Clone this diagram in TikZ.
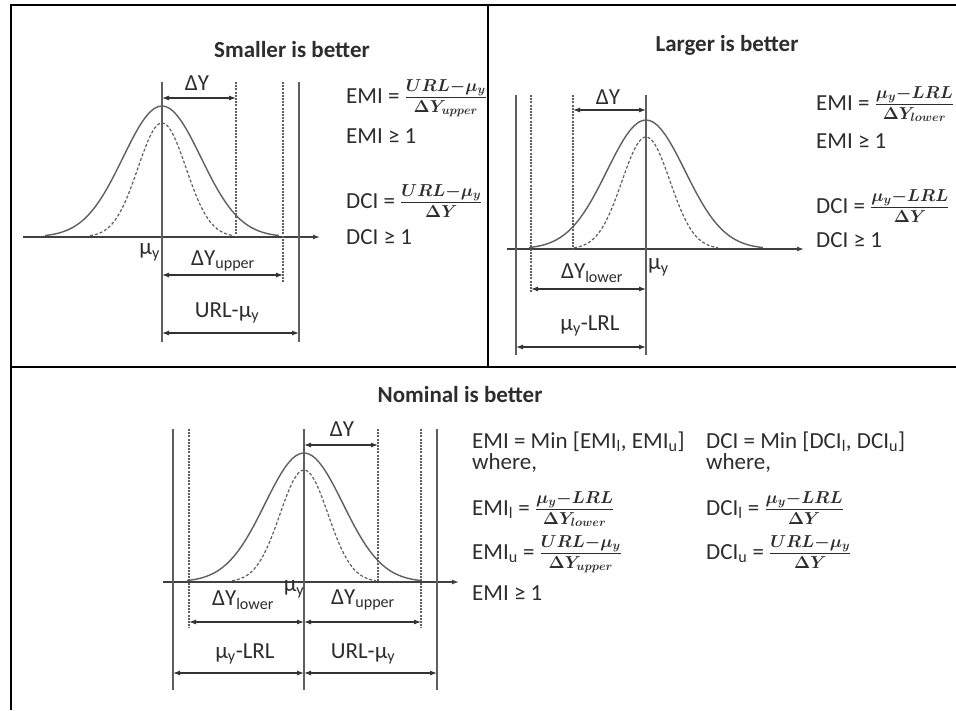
\documentclass[tikz,border=0pt]{standalone}
\usepackage{fontspec}
\setmainfont{Carlito}
\usetikzlibrary{arrows.meta,calc,positioning}
\definecolor{lngray}{RGB}{95,95,95}
\definecolor{txgray}{RGB}{45,45,45}

\begin{document}
\begin{tikzpicture}[x=1pt,y=-1pt,>={Latex[length=7pt,width=5pt]},
    every node/.style={font=\fontsize{23}{25}\selectfont,text=txgray,inner sep=1pt},
    title/.style={font=\fontsize{23}{25}\selectfont\bfseries},
    frameline/.style={black,line width=2.6pt},
    curve/.style={lngray,line width=1.4pt},
    dcurve/.style={lngray,line width=1.2pt,dash pattern=on 3pt off 2pt},
    guide/.style={lngray,line width=1.1pt},
    dguide/.style={lngray,line width=1.1pt,dash pattern=on 2pt off 1.2pt},
    dimline/.style={<->,black!80,line width=1.1pt},
    axis/.style={->,black!75,line width=1.3pt}]
  \useasboundingbox (0,0) rectangle (956,710);
  % frame
  \draw[frameline] (11,710) -- (11,5) -- (956,5);
  \draw[frameline] (11,367) -- (956,367);
  \draw[frameline] (488,5) -- (488,367);

  % smaller is better
  \node[title] (t1) at (292,50) {Smaller is better};
  \coordinate (ax1l) at (23,237); \coordinate (ax1r) at (320,237);
  \draw[axis] (ax1l) -- (ax1r);
  \draw[curve] plot[domain=-3:3,samples=61] ({162+39*\x},{237-131*exp(-0.5*(\x)^2)});
  \draw[dcurve] plot[domain=-3:3,samples=61] ({162+24*\x},{237-114*exp(-0.5*(\x)^2)});
  \coordinate (mu1t) at (162,82); \coordinate (mu1b) at (162,342);
  \coordinate (dy1t) at (236,82); \coordinate (dy1b) at (236,237);
  \coordinate (up1t) at (283,82); \coordinate (up1b) at (283,282);
  \coordinate (url1t) at (299,82); \coordinate (url1b) at (299,342);
  \draw[guide] (mu1t) -- (mu1b); \draw[guide] (url1t) -- (url1b);
  \draw[dguide] (dy1t) -- (dy1b); \draw[dguide] (up1t) -- (up1b);
  \draw[dimline] (mu1t |- 0,98) -- (dy1t |- 0,98);
  \draw[dimline] (mu1t |- 0,275) -- (up1t |- 0,275);
  \draw[dimline] (mu1t |- 0,333) -- (url1t |- 0,333);
  \node (dy1) at (197,83) {ΔY};
  \node[anchor=east] (mu1) at (161,252) {μ\textsubscript{y}};
  \node (dyup1) at (223,261) {ΔY\textsubscript{upper}};
  \node (urlmu1) at (227,313) {URL-μ\textsubscript{y}};
  \node[anchor=base west] (emi1) at (345,103) {EMI = {\boldmath$\frac{URL-\mu_y}{\Delta Y_{upper}}$}};
  \node[anchor=base west] (emic1) at (345,143) {EMI ≥ 1};
  \node[anchor=base west] (dci1) at (345,208) {DCI = {\boldmath$\frac{URL-\mu_y}{\Delta Y}$}};
  \node[anchor=base west] (dcic1) at (345,244) {DCI ≥ 1};

  % larger is better
  \node[title] (t2) at (727,45) {Larger is better};
  \coordinate (ax2l) at (507,249); \coordinate (ax2r) at (804,249);
  \draw[axis] (ax2l) -- (ax2r);
  \draw[curve] plot[domain=-3:3,samples=61] ({646+39*\x},{249-129*exp(-0.5*(\x)^2)});
  \draw[dcurve] plot[domain=-3:3,samples=61] ({646+24*\x},{249-112*exp(-0.5*(\x)^2)});
  \coordinate (lrl2t) at (516,95); \coordinate (lrl2b) at (516,355);
  \coordinate (lo2t) at (531,95); \coordinate (lo2b) at (531,293);
  \coordinate (dy2t) at (573,95); \coordinate (dy2b) at (573,249);
  \coordinate (mu2t) at (646,95); \coordinate (mu2b) at (646,355);
  \draw[guide] (lrl2t) -- (lrl2b); \draw[guide] (mu2t) -- (mu2b);
  \draw[dguide] (lo2t) -- (lo2b); \draw[dguide] (dy2t) -- (dy2b);
  \draw[dimline] (dy2t |- 0,110) -- (mu2t |- 0,110);
  \draw[dimline] (lo2t |- 0,289) -- (mu2t |- 0,289);
  \draw[dimline] (lrl2t |- 0,347) -- (mu2t |- 0,347);
  \node (dy2) at (608,97) {ΔY};
  \node[anchor=west] (mu2) at (647,267) {μ\textsubscript{y}};
  \node (dylo2) at (592,273) {ΔY\textsubscript{lower}};
  \node (mulrl2) at (590,326) {μ\textsubscript{y}-LRL};
  \node[anchor=base west] (emi2) at (815,110) {EMI = {\boldmath$\frac{\mu_y-LRL}{\Delta Y_{lower}}$}};
  \node[anchor=base west] (emic2) at (815,148) {EMI ≥ 1};
  \node[anchor=base west] (dci2) at (815,213) {DCI = {\boldmath$\frac{\mu_y-LRL}{\Delta Y}$}};
  \node[anchor=base west] (dcic2) at (815,247) {DCI ≥ 1};

  % nominal is better
  \node[title] (t3) at (460,395) {Nominal is better};
  \coordinate (ax3l) at (163,582); \coordinate (ax3r) at (459,582);
  \draw[axis] (ax3l) -- (ax3r);
  \draw[curve] plot[domain=-3:3,samples=61] ({304+39*\x},{582-129*exp(-0.5*(\x)^2)});
  \draw[dcurve] plot[domain=-3:3,samples=61] ({304+24*\x},{582-112*exp(-0.5*(\x)^2)});
  \coordinate (lrl3t) at (173,429); \coordinate (lrl3b) at (173,690);
  \coordinate (lo3t) at (189,429); \coordinate (lo3b) at (189,628);
  \coordinate (mu3t) at (304,429); \coordinate (mu3b) at (304,690);
  \coordinate (dy3t) at (378,429); \coordinate (dy3b) at (378,582);
  \coordinate (up3t) at (421,429); \coordinate (up3b) at (421,628);
  \coordinate (url3t) at (437,429); \coordinate (url3b) at (437,690);
  \draw[guide] (lrl3t) -- (lrl3b); \draw[guide] (mu3t) -- (mu3b); \draw[guide] (url3t) -- (url3b);
  \draw[dguide] (lo3t) -- (lo3b); \draw[dguide] (dy3t) -- (dy3b); \draw[dguide] (up3t) -- (up3b);
  \draw[dimline] (mu3t |- 0,445) -- (dy3t |- 0,445);
  \draw[dimline] (lo3t |- 0,622) -- (mu3t |- 0,622);
  \draw[dimline] (mu3t |- 0,622) -- (up3t |- 0,622);
  \draw[dimline] (lrl3t |- 0,673) -- (mu3t |- 0,673);
  \draw[dimline] (mu3t |- 0,673) -- (url3t |- 0,673);
  \node (dy3) at (342,429) {ΔY};
  \node (dylo3) at (243,600) {ΔY\textsubscript{lower}};
  \node (mu3) at (294,589) {μ\textsubscript{y}};
  \node (dyup3) at (363,600) {ΔY\textsubscript{upper}};
  \node (mulrl3) at (245,654) {μ\textsubscript{y}-LRL};
  \node (urlmu3) at (363,654) {URL-μ\textsubscript{y}};
  \node[anchor=base west] (emi3) at (471,448) {EMI = Min [EMI\textsubscript{l}, EMI\textsubscript{u}]};
  \node[anchor=base west] (wh3) at (471,469) {where,};
  \node[anchor=base west] (emil3) at (471,515) {EMI\textsubscript{l} = {\boldmath$\frac{\mu_y-LRL}{\Delta Y_{lower}}$}};
  \node[anchor=base west] (emiu3) at (471,559) {EMI\textsubscript{u} = {\boldmath$\frac{URL-\mu_y}{\Delta Y_{upper}}$}};
  \node[anchor=base west] (emic3) at (471,600) {EMI ≥ 1};
  \node[anchor=base west] (dci3) at (705,448) {DCI = Min [DCI\textsubscript{l}, DCI\textsubscript{u}]};
  \node[anchor=base west] (wh3b) at (705,469) {where,};
  \node[anchor=base west] (dcil3) at (705,515) {DCI\textsubscript{l} = {\boldmath$\frac{\mu_y-LRL}{\Delta Y}$}};
  \node[anchor=base west] (dciu3) at (705,559) {DCI\textsubscript{u} = {\boldmath$\frac{URL-\mu_y}{\Delta Y}$}};
\end{tikzpicture}
\end{document}
